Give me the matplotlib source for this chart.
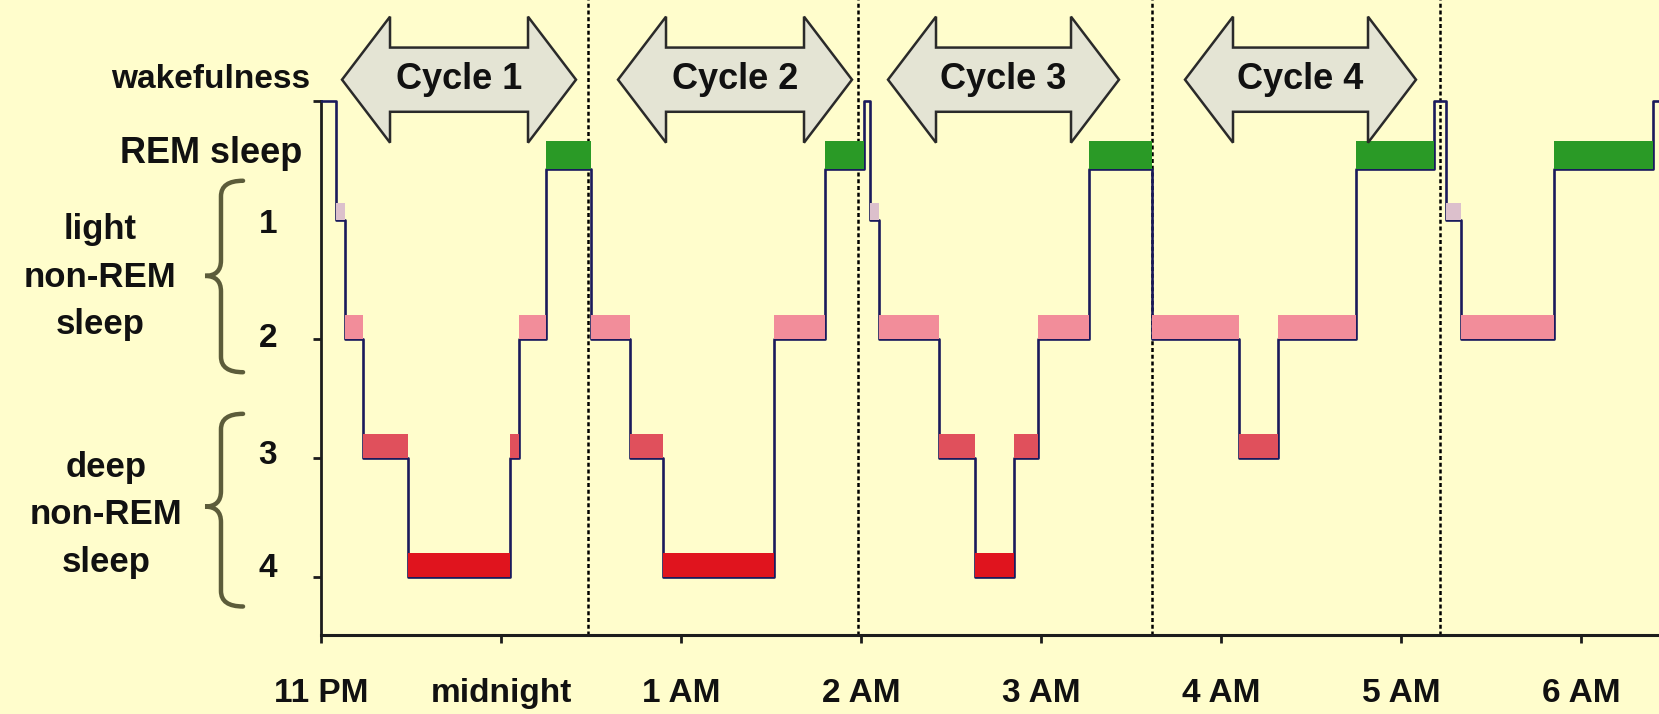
import numpy as np
import matplotlib
matplotlib.use("Agg")
import matplotlib.pyplot as plt
import matplotlib.transforms as mtransforms
from matplotlib.patches import Polygon, PathPatch
from matplotlib.path import Path

plt.rcParams['font.family'] = ['Liberation Sans', 'DejaVu Sans']
plt.rcParams['font.weight'] = 'bold'

# hypnogram: minutes after 11 PM at which each stage starts
stage_onsets = [0, 5, 8, 14, 29, 63, 66, 75,
                90, 103, 114, 151, 168,
                181, 183, 186, 206, 218, 231, 239, 256,
                277, 306, 319, 345,
                371, 375, 380, 411, 444]
stages = ['W', '1', '2', '3', '4', '3', '2', 'R',
          '2', '3', '4', '2', 'R',
          'W', '1', '2', '3', '4', '3', '2', 'R',
          '2', '3', '2', 'R',
          'W', '1', '2', 'R', 'W']
record_end = 446

tick_minutes = [0, 60, 120, 180, 240, 300, 360, 420]
tick_labels = ['11 PM', 'midnight', '1 AM', '2 AM', '3 AM', '4 AM', '5 AM', '6 AM']

cycle_names = ['Cycle 1', 'Cycle 2', 'Cycle 3', 'Cycle 4']
cycle_starts = [7, 99, 189, 288]
cycle_ends = [85, 177, 266, 365]
cycle_bounds = [89, 179, 277, 373]

# vertical scale of the stages (depth axis, drawn inverted)
level = {'W': 0.0, 'R': 0.575, '1': 1.0, '2': 2.0, '3': 3.0, '4': 4.0}
bar_h = {'R': 0.24, '1': 0.14, '2': 0.2, '3': 0.2, '4': 0.2}
colors = {'R': '#2a9a26', '1': '#dcc0cc', '2': '#f28d9a', '3': '#e0505c', '4': '#e0141e'}

bg = '#fffdcc'
ink = '#1c1c1c'
txt = '#111111'

fig = plt.figure(figsize=(16.59, 7.14), dpi=100, facecolor=bg)
ax = fig.add_axes([0.1935, 0.1106, 0.8065, 0.8894], facecolor=bg)

# step line
xs = stage_onsets + [record_end]
ys = [level[s] for s in stages] + [level[stages[-1]]]
ax.step(xs, ys, where='post', color='#1a1a5c', lw=1.9, zorder=3)

# coloured stage blocks
for i, s in enumerate(stages):
    if s == 'W':
        continue
    x0 = stage_onsets[i]
    x1 = stage_onsets[i + 1] if i + 1 < len(stage_onsets) else record_end
    ax.bar(x0, bar_h[s], width=x1 - x0, bottom=level[s] - bar_h[s],
           align='edge', color=colors[s], lw=0, zorder=4)

# cycle boundaries
for xb in cycle_bounds:
    ax.axvline(xb, color='black', lw=1.8, ls=(0, (1.6, 1.1)), zorder=2)

# cycle arrows
yc, hh, sh, hl = -0.18, 0.53, 0.27, 16
for name, x0, x1 in zip(cycle_names, cycle_starts, cycle_ends):
    verts = [(x0, yc), (x0 + hl, yc - hh), (x0 + hl, yc - sh),
             (x1 - hl, yc - sh), (x1 - hl, yc - hh), (x1, yc),
             (x1 - hl, yc + hh), (x1 - hl, yc + sh), (x0 + hl, yc + sh),
             (x0 + hl, yc + hh)]
    ax.add_patch(Polygon(verts, closed=True, fc='#e4e4d4', ec='#2a2a2a',
                         lw=1.8, zorder=5))
    ax.text((x0 + x1) / 2, yc, name, ha='center', va='center',
            fontsize=26, fontweight='bold', color=txt, zorder=6)

ax.set_xlim(0, record_end)
ax.set_ylim(4.49, -0.85)

ax.set_xticks(tick_minutes)
ax.set_xticklabels(tick_labels, fontsize=24, fontweight='bold', color=txt)
ax.tick_params(axis='x', direction='out', length=6, width=2, color=ink, pad=25)
ax.set_yticks([level['W'], level['2'], level['3'], level['4']])
ax.set_yticklabels([])
ax.tick_params(axis='y', direction='out', length=6, width=2, color=ink)

for side in ['top', 'right']:
    ax.spines[side].set_visible(False)
ax.spines['left'].set_bounds(level['W'], 4.49)
ax.spines['left'].set_linewidth(2)
ax.spines['left'].set_color(ink)
ax.spines['bottom'].set_linewidth(2.2)
ax.spines['bottom'].set_color(ink)

# left-hand labels: x in figure fraction, y on the stage scale
tr = mtransforms.blended_transform_factory(fig.transFigure, ax.transData)
fs = 24
ax.text(0.1869, -0.18, 'wakefulness', transform=tr, ha='right', va='center',
        fontsize=fs, color=txt)
ax.text(0.182, 0.44, 'REM sleep', transform=tr, ha='right', va='center',
        fontsize=26, color=txt)
for s, yl in [('1', 1.04), ('2', 2.0), ('3', 2.98), ('4', 3.93)]:
    ax.text(0.1615, yl, s, transform=tr, ha='center', va='center',
            fontsize=fs, color=txt)
ax.text(0.0603, 1.48, 'light\nnon-REM\nsleep', transform=tr, ha='center',
        va='center', fontsize=25, linespacing=1.55, color=txt)
ax.text(0.064, 3.48, 'deep\nnon-REM\nsleep', transform=tr, ha='center',
        va='center', fontsize=25, linespacing=1.55, color=txt)


def brace(ytop, ymid, ybot, x0=0.1332, xe=0.1465, xc=0.1236, r=0.13):
    verts = [(xe, ytop), (x0, ytop), (x0, ytop + r),
             (x0, ymid - r), (x0, ymid), (xc, ymid),
             (x0, ymid), (x0, ymid + r),
             (x0, ybot - r), (x0, ybot), (xe, ybot)]
    codes = [Path.MOVETO, Path.CURVE3, Path.CURVE3,
             Path.LINETO, Path.CURVE3, Path.CURVE3,
             Path.CURVE3, Path.CURVE3,
             Path.LINETO, Path.CURVE3, Path.CURVE3]
    ax.add_patch(PathPatch(Path(verts, codes), transform=tr, fc='none',
                           ec='#5c5c3a', lw=3.2, clip_on=False, capstyle='round'))


brace(0.67, 1.47, 2.28)
brace(2.63, 3.41, 4.25)

fig.savefig('out.png', dpi=100, facecolor=bg)
